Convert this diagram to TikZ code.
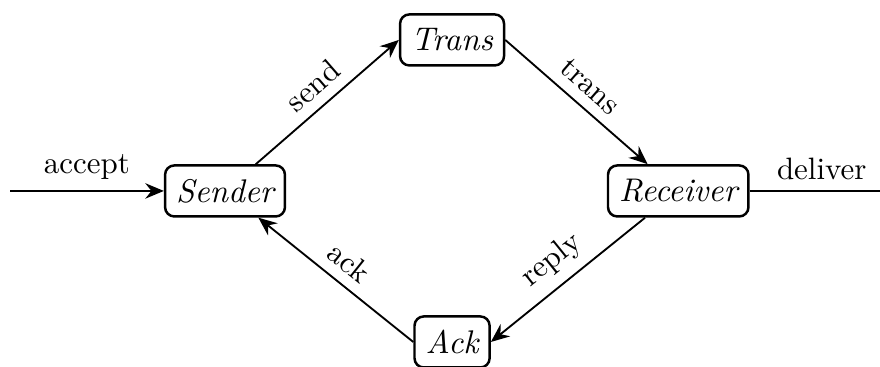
\documentclass[tikz,border=0pt]{standalone}
\usetikzlibrary{arrows.meta}
\begin{document}
\begin{tikzpicture}[
  proc/.style={draw, thick, rounded corners=3pt, inner xsep=3.6pt, inner ysep=3pt, minimum height=16.5pt, font=\fontsize{10.6}{12.7}\selectfont\itshape},
  flow/.style={semithick, -{Stealth[length=6pt,width=5pt,inset=2pt]}},
  plain/.style={semithick}
]
\useasboundingbox (-2.557,-2.000) rectangle (7.443,2.170);
\clip (-2.557,-2.000) rectangle (7.443,2.170);
\node[proc] (sender) at (0,0) {Sender};
\node[proc] (trans) at (2.58,1.716) {Trans};
\node[proc] (receiver) at (5.15,0) {Receiver};
\node[proc] (ack) at (2.58,-1.716) {Ack};
\coordinate (in) at (-2.443,0);
\coordinate (out) at (7.6,0);
\draw[flow] (in) -- node[above] {accept} (sender);
\draw[plain] (receiver) -- node[above] {deliver} (out);
\draw[flow] (sender) -- node[above, sloped] {send} (trans.west);
\draw[flow] (trans.east) -- node[above, sloped] {trans} (receiver);
\draw[flow] (receiver) -- node[above, sloped] {reply} (ack.east);
\draw[flow] (ack.west) -- node[above, sloped] {ack} (sender);
\end{tikzpicture}
\end{document}
